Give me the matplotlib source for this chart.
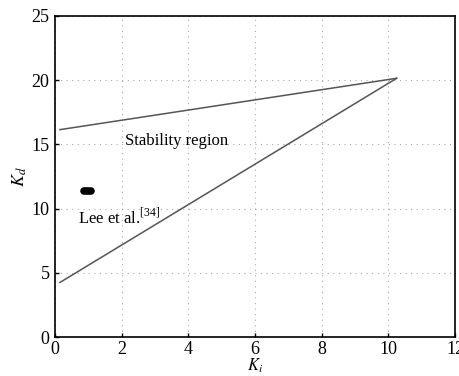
import matplotlib
matplotlib.use("Agg")
import matplotlib.pyplot as plt

# Boundary of the stability region in the (Ki, Kd) plane
upper_ki = [0.15, 10.25]
upper_kd = [16.15, 20.15]
lower_ki = [0.15, 10.25]
lower_kd = [4.25, 20.15]

# Gain set reported by Lee et al.
lee_ki = [0.88, 1.07]
lee_kd = [11.4, 11.4]

xticks = [0, 2, 4, 6, 8, 10, 12]
yticks = [0, 5, 10, 15, 20, 25]

plt.rcParams['font.family'] = ['Liberation Serif', 'DejaVu Serif']
plt.rcParams['mathtext.fontset'] = 'stix'

fig = plt.figure(figsize=(4.6, 3.76), dpi=100)
ax = fig.add_axes([55 / 460, 1 - 337 / 376, 400 / 460, 321 / 376])

ax.plot(upper_ki, upper_kd, color='#555555', lw=1.1)
ax.plot(lower_ki, lower_kd, color='#555555', lw=1.1)
ax.plot(lee_ki, lee_kd, color='black', lw=5.5, solid_capstyle='round')

ax.text(2.1, 15.3, 'Stability region', fontsize=12, va='center', ha='left')
ax.text(0.7, 9.3, r'Lee et al.$^{\mathregular{[34]}}$', fontsize=12, va='center', ha='left')

ax.set_xlim(0, 12)
ax.set_ylim(0, 25)
ax.set_xticks(xticks)
ax.set_yticks(yticks)
ax.tick_params(direction='in', labelsize=13, length=3, width=1, pad=4)
ax.tick_params(axis='x', pad=3)
ax.grid(True, linestyle=(0, (1, 4)), color='#aaaaaa', lw=0.8)
for s in ax.spines.values():
    s.set_linewidth(1.2)

ax.set_xlabel(r'$K_i$', fontsize=12, labelpad=-1)
ax.set_ylabel(r'$K_d$', fontsize=13, labelpad=2)

fig.savefig('out.png', dpi=100)
